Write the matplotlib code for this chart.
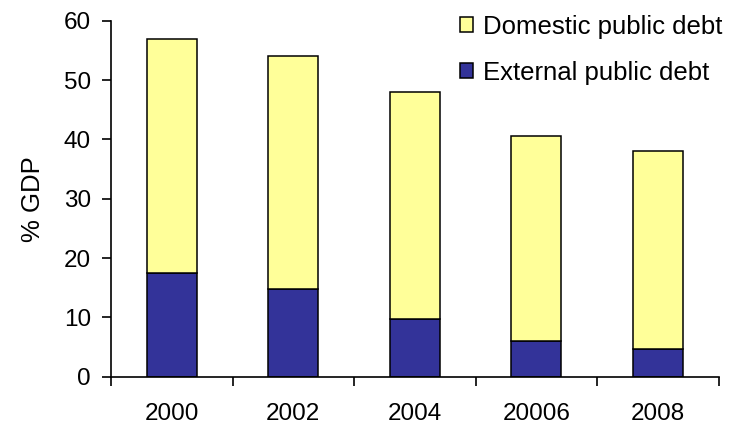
import matplotlib
matplotlib.use('Agg')
import matplotlib.pyplot as plt
import numpy as np

plt.rcParams['font.family'] = ['Liberation Sans', 'DejaVu Sans']

years = ['2000', '2002', '2004', '20006', '2008']
external = [17.5, 14.8, 9.8, 6.1, 4.7]
total = [57.0, 54.0, 48.0, 40.5, 38.0]
domestic = [t - e for t, e in zip(total, external)]

W, H = 735, 426
fig = plt.figure(figsize=(W / 100, H / 100), dpi=100)
ax = fig.add_axes([111 / W, 1 - 376.7 / H, 607.5 / W, 356 / H])

x = np.arange(len(years))
w = 0.41
b_ext = ax.bar(x, external, w, color='#333399', edgecolor='black', linewidth=1.1,
               label='External public debt')
b_dom = ax.bar(x, domestic, w, bottom=external, color='#FFFF99', edgecolor='black',
               linewidth=1.1, label='Domestic public debt')

ax.set_xlim(-0.5, len(years) - 0.5)
ax.set_ylim(0, 60)
ax.set_yticks(range(0, 61, 10))
ax.set_xticks(x)
ax.set_xticklabels(years)
# labels sit under the bars, ticks go between categories
ax.tick_params(axis='x', length=0, pad=19, labelsize=17.5)
ax.set_xticks(np.arange(-0.5, len(years)), minor=True)
ax.tick_params(axis='x', which='minor', length=6.5, width=1.2, direction='out')
ax.tick_params(axis='y', length=6.5, width=1.2, direction='out', labelsize=17.5, pad=8)
ax.set_ylabel('% GDP', fontsize=18.5)
ax.yaxis.set_label_coords(-0.108, 0.5)

for s in ['top', 'right']:
    ax.spines[s].set_visible(False)
for s in ['left', 'bottom']:
    ax.spines[s].set_linewidth(1.2)

ax.legend([b_dom, b_ext], ['Domestic public debt', 'External public debt'],
          loc='upper left', bbox_to_anchor=(450 / W, 1 - 4.5 / H), bbox_transform=fig.transFigure,
          borderaxespad=0, frameon=False, fontsize=18.5, handlelength=0.49,
          handleheight=0.49, handletextpad=0.4, labelspacing=0.85)

fig.savefig('out.png', dpi=100)
